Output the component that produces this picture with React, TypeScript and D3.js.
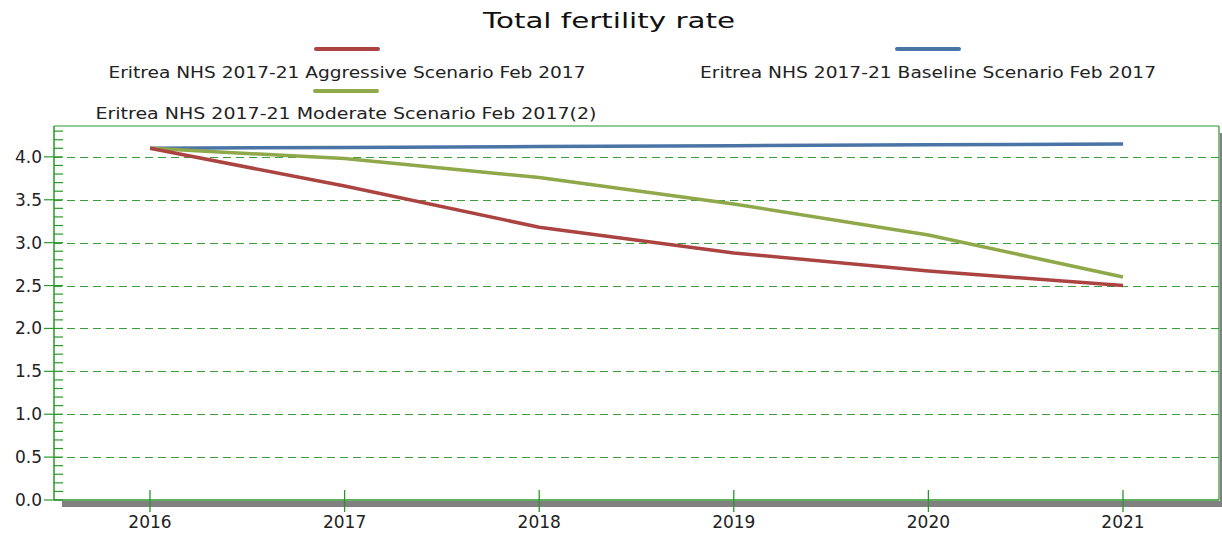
import React from "react";
import * as d3 from "d3";

const years = [2016, 2017, 2018, 2019, 2020, 2021];
const aggressive = [4.1, 3.66, 3.18, 2.88, 2.67, 2.5];
const baseline = [4.1, 4.11, 4.12, 4.13, 4.14, 4.15];
const moderate = [4.1, 3.98, 3.76, 3.45, 3.09, 2.6];
const yTicks = [0, 0.5, 1.0, 1.5, 2.0, 2.5, 3.0, 3.5, 4.0];

const series = [
  { name: "Eritrea NHS 2017-21 Aggressive Scenario Feb 2017", values: aggressive, color: "#ab4341" },
  { name: "Eritrea NHS 2017-21 Baseline Scenario Feb 2017", values: baseline, color: "#4a74a6" },
  { name: "Eritrea NHS 2017-21 Moderate Scenario Feb 2017(2)", values: moderate, color: "#8fa84a" },
];

const W = 1222, H = 533;
const left = 54, right = 1219, top = 126, bottom = 500;
const font = "'DejaVu Sans', Verdana, sans-serif";

export default function App() {
  const x = d3.scaleLinear().domain([2016, 2021]).range([150, 1123]);
  const y = d3.scaleLinear().domain([0, 4.36]).range([bottom, top]);
  const line = d3.line<number>().x((_, i) => x(years[i])).y((d) => y(d));
  const minor = d3.range(1, 44).map((i) => i / 10).filter((v) => Math.round(v * 10) % 5 !== 0);
  const legendPos = [
    { cx: 347, ly: 49, ty: 78, len: 477 },
    { cx: 928, ly: 49, ty: 78, len: 456 },
    { cx: 346, ly: 91, ty: 119, len: 501 },
  ];
  return (
    <svg width={W} height={H} style={{ position: "absolute", left: 0, top: 0 }}>
      <rect width={W} height={H} fill="#fff" />
      <text x={609} y={28} textAnchor="middle" fontFamily={font} fontSize={22} fill="#111"
        textLength={252} lengthAdjust="spacingAndGlyphs">
        Total fertility rate
      </text>
      {series.map((s, i) => (
        <g key={s.name}>
          <line x1={legendPos[i].cx - 31} x2={legendPos[i].cx + 31} y1={legendPos[i].ly} y2={legendPos[i].ly}
            stroke={s.color} strokeWidth={4} strokeLinecap="round" />
          <text x={legendPos[i].cx} y={legendPos[i].ty} textAnchor="middle" fontFamily={font} fontSize={16} fill="#222"
            textLength={legendPos[i].len} lengthAdjust="spacingAndGlyphs">
            {s.name}
          </text>
        </g>
      ))}
      {/* shadows */}
      <rect x={62} y={501} width={W - 62} height={6} fill="#808080" />
      <rect x={1220} y={133} width={3} height={374} fill="#808080" />
      {/* frame */}
      <line x1={left} x2={right} y1={top} y2={top} stroke="#2a962a" strokeWidth={1.2} />
      <line x1={right} x2={right} y1={top} y2={bottom} stroke="#2a962a" strokeWidth={1.2} />
      {/* gridlines */}
      {yTicks.filter((v) => v > 0).map((v) => (
        <line key={v} x1={left} x2={right} y1={Math.round(y(v)) + 0.5} y2={Math.round(y(v)) + 0.5}
          stroke="#3a9e3a" strokeWidth={1.2} strokeDasharray="8,5" />
      ))}
      {/* minor ticks */}
      {minor.map((v) => (
        <line key={v} x1={left} x2={left + 9} y1={y(v)} y2={y(v)} stroke="#2a9a2a" strokeWidth={1.2} />
      ))}
      {yTicks.map((v) => (
        <g key={v}>
          <line x1={left - 10} x2={left + 9} y1={y(v)} y2={y(v)} stroke="#2a9a2a" strokeWidth={1.2} />
          <text x={left - 12} y={y(v) + 6} textAnchor="end" fontFamily={font} fontSize={17} fill="#222">
            {v.toFixed(1)}
          </text>
        </g>
      ))}
      <line x1={left} x2={left} y1={top} y2={bottom} stroke="#2a962a" strokeWidth={1.5} />
      <line x1={left} x2={right} y1={bottom} y2={bottom} stroke="#2a962a" strokeWidth={1.5} />
      {years.map((yr) => (
        <g key={yr}>
          <line x1={x(yr)} x2={x(yr)} y1={490} y2={512} stroke="#2a962a" strokeWidth={1.3} />
          <text x={x(yr)} y={528} textAnchor="middle" fontFamily={font} fontSize={17} fill="#222">
            {yr}
          </text>
        </g>
      ))}
      {[series[1], series[2], series[0]].map((s) => (
        <path key={s.name} d={line(s.values) || ""} fill="none" stroke={s.color} strokeWidth={3.5} />
      ))}
    </svg>
  );
}
